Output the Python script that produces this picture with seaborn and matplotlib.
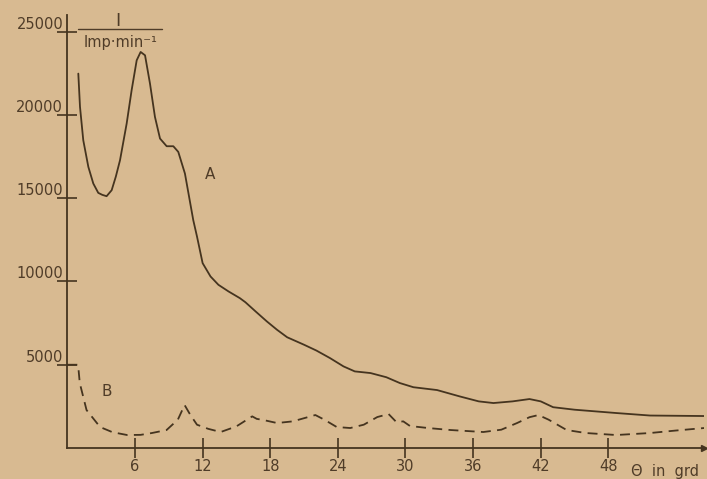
import numpy as np
import pandas as pd
import matplotlib
matplotlib.use("Agg")
import matplotlib.pyplot as plt
import seaborn as sns

# ──────────────────────────────────────────────
# data
# ──────────────────────────────────────────────
theta_a = [0.97, 1.12, 1.41, 1.86, 2.3, 2.74, 3.1, 3.48, 3.93, 4.3, 4.67, 5.26, 5.7,
           6.15, 6.5, 6.89, 7.33, 7.77, 8.22, 8.81, 9.4, 9.84, 10.43, 11.17, 11.5,
           12.0, 12.7, 13.4, 14.3, 15.3, 15.8, 16.7, 17.7, 18.6, 19.5, 21.0, 22.1,
           23.3, 24.5, 25.5, 26.9, 28.3, 29.5, 30.7, 32.8, 34.8, 36.5, 37.8, 39.5,
           41.0, 42.0, 43.1, 45.0, 48.7, 51.7, 56.5]
intensity_a = [22480, 20480, 18480, 16880, 15880, 15320, 15200, 15120, 15480, 16300,
               17280, 19480, 21480, 23280, 23780, 23580, 21880, 19880, 18580, 18120,
               18120, 17780, 16480, 13680, 12700, 11100, 10300, 9800, 9400, 9000,
               8750, 8200, 7600, 7100, 6650, 6200, 5850, 5400, 4900, 4600, 4500,
               4250, 3900, 3650, 3480, 3100, 2800, 2700, 2800, 2940, 2800, 2450,
               2300, 2100, 1950, 1920]

theta_b = [0, 0.95, 1.1, 1.7, 2.9, 4.0, 5.3, 6.5, 7.5, 8.8, 9.8, 10.4, 10.9, 11.5,
           12.5, 13.6, 15.0, 16.4, 16.8, 17.4, 18.6, 20.0, 22.0, 22.8, 23.9, 25.1,
           26.3, 27.5, 28.5, 29.2, 29.8, 30.4, 32.0, 34.0, 36.9, 38.5, 39.9, 41.0,
           41.8, 42.7, 44.3, 46.0, 48.7, 51.7, 54.0, 56.5]
intensity_b = [5000, 5000, 3900, 2280, 1260, 950, 780, 790, 900, 1080, 1700, 2580,
               2000, 1400, 1150, 960, 1300, 1900, 1750, 1680, 1500, 1600, 1980, 1700,
               1260, 1200, 1400, 1860, 2040, 1550, 1600, 1320, 1200, 1080, 960, 1100,
               1500, 1850, 1980, 1700, 1080, 900, 780, 900, 1050, 1200]

x_ticks = [6, 12, 18, 24, 30, 36, 42, 48]
y_ticks = [5000, 10000, 15000, 20000, 25000]

PAPER = "#d8ba91"
INK = "#45341f"
TEXT = "#4f3c28"

sns.set_style("ticks")
plt.rcParams["font.family"] = ["DejaVu Sans"]

df_a = pd.DataFrame({"theta": theta_a, "I": intensity_a})
df_b = pd.DataFrame({"theta": theta_b, "I": intensity_b})

fig = plt.figure(figsize=(7.07, 4.79), dpi=100, facecolor=PAPER)
ax = fig.add_axes([0.0953, 0.0647, 0.9007, 0.904])
ax.set_facecolor(PAPER)

sns.lineplot(data=df_a, x="theta", y="I", ax=ax, color=INK, linewidth=1.3,
             estimator=None, sort=False)
sns.lineplot(data=df_b, x="theta", y="I", ax=ax, color=INK, linewidth=1.3,
             estimator=None, sort=False, dashes=False, linestyle=(0, (5.5, 3.5)))

ax.set_xlim(0, 56.5)
ax.set_ylim(0, 26000)
ax.set_xticks(x_ticks)
ax.set_yticks(y_ticks)
ax.set_xticklabels([str(t) for t in x_ticks])
ax.set_yticklabels([str(t) for t in y_ticks])
ax.set_xlabel("")
ax.set_ylabel("")

for side in ["top", "right"]:
    ax.spines[side].set_visible(False)
for side in ["left", "bottom"]:
    ax.spines[side].set_color(INK)
    ax.spines[side].set_linewidth(1.3)

ax.tick_params(axis="both", direction="inout", length=14, width=1.2, color=INK,
               labelcolor=TEXT, labelsize=10.5)
ax.tick_params(axis="y", pad=-4)
ax.tick_params(axis="x", pad=1)
for lab in ax.get_yticklabels():
    lab.set_verticalalignment("bottom")

# arrow head at the end of the x axis
ax.plot(1, 0, marker=">", markersize=4, color=INK, transform=ax.transAxes,
        clip_on=False)

# axis caption, curve labels
ax.text(50.0, -0.038, "Θ  in  grd", transform=ax.get_xaxis_transform(),
        ha="left", va="top", color=TEXT, fontsize=10.5)
ax.text(0.080, 0.987, "I", transform=ax.transAxes, ha="center", va="center",
        color=TEXT, fontsize=13)
ax.plot([0.0166, 0.1486], [0.9677, 0.9677], transform=ax.transAxes, color=TEXT,
        linewidth=1.0, clip_on=False)
ax.text(0.083, 0.937, "Imp·min⁻¹", transform=ax.transAxes, ha="center",
        va="center", color=TEXT, fontsize=10.5)
ax.text(12.7, 16400, "A", ha="center", va="center", color=TEXT, fontsize=11)
ax.text(3.5, 3400, "B", ha="center", va="center", color=TEXT, fontsize=11)

plt.savefig("out.png", dpi=100, facecolor=PAPER)
